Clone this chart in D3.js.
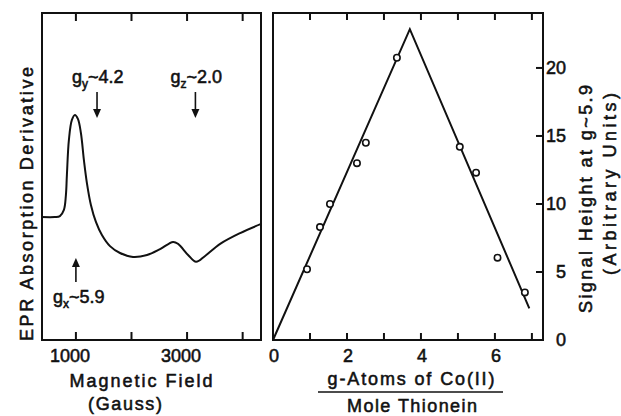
<!DOCTYPE html>
<html>
<head>
<meta charset="utf-8">
<script src="https://cdn.jsdelivr.net/npm/d3@7"></script>
<style>
  body { margin: 0; background: #fff; }
  text { font-family: "Liberation Sans", Arial, sans-serif; fill: #111; stroke: #111; stroke-width: 0.55px; }
</style>
</head>
<body>
<div id="chart"></div>
<script>
// left panel: EPR spectrum (field in Gauss, derivative in arbitrary units)
var field = [390, 622, 712, 784, 820, 838, 874, 928, 982, 1036, 1090, 1144, 1198, 1270, 1360, 1468, 1613, 1793, 2027, 2279, 2514, 2748, 2838, 3018, 3162, 3324, 3595, 3955, 4333]
var deriv = [37.6, 37.6, 37.9, 39.8, 44.3, 50.5, 61.2, 67.3, 68.8, 67.6, 63.3, 55.0, 48.0, 41.3, 36.1, 32.1, 28.7, 26.6, 25.4, 26.0, 27.8, 30.0, 29.4, 26.0, 23.9, 25.7, 29.4, 32.7, 35.5]
var fieldTicks = [1000, 2000, 3000, 4000]
var fieldLabels = [1000, 3000]

// g-value markers
var markerField = [1000, 1380, 3150]
var markerSub = ["x", "y", "z"]
var markerVal = ["5.9", "4.2", "2.0"]

// right panel: titration
var ratio = [0.92, 1.27, 1.54, 2.27, 2.51, 3.35, 5.05, 5.49, 6.07, 6.81]
var height = [5.2, 8.3, 10.0, 13.0, 14.5, 20.75, 14.2, 12.3, 6.05, 3.5]
var fitX = [0, 3.70, 6.93]
var fitY = [0, 22.85, 2.33]
var ratioTicks = [1, 2, 3, 4, 5, 6, 7]
var ratioLabels = [0, 2, 4, 6]
var heightTicks = [0, 5, 10, 15, 20]

var W = 621, H = 416
var svg = d3.select("#chart").append("svg")
    .attr("width", W)
    .attr("height", H)

var yTop = 13, yBot = 340
var tickLen = 7
var fs = 18

// axis title helper, stretched to the width seen in the figure
function title(g, x, y, rot, len, str) {
  return g.append("text")
      .attr("transform", "translate(" + x + "," + y + ")" + (rot ? " rotate(-90)" : ""))
      .attr("text-anchor", "middle")
      .attr("font-size", fs)
      .attr("textLength", len)
      .attr("lengthAdjust", "spacing")
      .text(str)
}

// ---- left panel
var x1 = d3.scaleLinear().domain([390, 4330]).range([42, 261])
var y1 = d3.scaleLinear().domain([0, 100]).range([yBot, yTop])

var gl = svg.append("g")

gl.append("rect")
    .attr("x", 42).attr("y", yTop)
    .attr("width", 261 - 42).attr("height", yBot - yTop)
    .attr("fill", "none").attr("stroke", "#111").attr("stroke-width", 2)

gl.selectAll("line.tt")
    .data(fieldTicks)
    .enter().append("line")
    .attr("x1", d => x1(d)).attr("x2", d => x1(d))
    .attr("y1", yTop).attr("y2", yTop + tickLen + 1)
    .attr("stroke", "#111").attr("stroke-width", 2)

gl.selectAll("line.bt")
    .data(fieldTicks)
    .enter().append("line")
    .attr("x1", d => x1(d)).attr("x2", d => x1(d))
    .attr("y1", yBot).attr("y2", yBot - tickLen - 1)
    .attr("stroke", "#111").attr("stroke-width", 2)

gl.selectAll("text.fl")
    .data(fieldLabels)
    .enter().append("text")
    .attr("x", d => x1(d) - 6)
    .attr("y", 362)
    .attr("text-anchor", "middle")
    .attr("font-size", fs)
    .text(d => d)

var spec = d3.line()
    .x((d, i) => x1(field[i]))
    .y(d => y1(d))
    .curve(d3.curveCatmullRom.alpha(0.5))

gl.append("path")
    .datum(deriv)
    .attr("d", spec)
    .attr("fill", "none").attr("stroke", "#111").attr("stroke-width", 2)

// markers: x points up from below, y and z point down from above
markerField.forEach(function (f, i) {
  var mx = x1(f)
  var up = markerSub[i] == "x"
  var ya = up ? 282 : 92, yb = up ? 260 : 116
  gl.append("line")
      .attr("x1", mx).attr("x2", mx)
      .attr("y1", ya).attr("y2", up ? yb + 4 : yb - 4)
      .attr("stroke", "#111").attr("stroke-width", 1.6)
  var ah = up ? [[mx, yb - 2], [mx - 4, yb + 7], [mx + 4, yb + 7]] : [[mx, yb + 2], [mx - 4, yb - 7], [mx + 4, yb - 7]]
  gl.append("path")
      .attr("d", d3.line()(ah) + "Z")
      .attr("fill", "#111")
  var t = gl.append("text")
      .attr("x", up ? mx - 23 : mx - 25)
      .attr("y", up ? 303 : 83)
      .attr("font-size", fs)
  t.append("tspan").text("g")
  t.append("tspan").attr("font-size", 12).attr("dy", 5).text(markerSub[i])
  t.append("tspan").attr("dy", -5).text("~" + markerVal[i])
})

title(gl, 33, 204, true, 274, "EPR Absorption Derivative")
title(gl, 141, 387, false, 143, "Magnetic Field")
title(gl, 125, 410, false, 74, "(Gauss)")

// ---- right panel
var x2 = d3.scaleLinear().domain([0, 7.3]).range([273, 543])
var y2 = d3.scaleLinear().domain([0, 24.04]).range([yBot, yTop])

var gr = svg.append("g")

gr.append("rect")
    .attr("x", 273).attr("y", yTop)
    .attr("width", 543 - 273).attr("height", yBot - yTop)
    .attr("fill", "none").attr("stroke", "#111").attr("stroke-width", 2)

gr.selectAll("line.tt")
    .data(ratioTicks)
    .enter().append("line")
    .attr("x1", d => x2(d)).attr("x2", d => x2(d))
    .attr("y1", yTop).attr("y2", yTop + tickLen)
    .attr("stroke", "#111").attr("stroke-width", 2)

gr.selectAll("line.bt")
    .data(ratioTicks)
    .enter().append("line")
    .attr("x1", d => x2(d)).attr("x2", d => x2(d))
    .attr("y1", yBot).attr("y2", yBot - tickLen)
    .attr("stroke", "#111").attr("stroke-width", 2)

gr.selectAll("line.yt")
    .data(heightTicks)
    .enter().append("line")
    .attr("x1", 543).attr("x2", 543 - tickLen)
    .attr("y1", d => y2(d)).attr("y2", d => y2(d))
    .attr("stroke", "#111").attr("stroke-width", 2)

gr.selectAll("text.xl")
    .data(ratioLabels)
    .enter().append("text")
    .attr("x", d => x2(d) + 1)
    .attr("y", 362)
    .attr("text-anchor", "middle")
    .attr("font-size", fs)
    .text(d => d)

gr.selectAll("text.yl")
    .data(heightTicks)
    .enter().append("text")
    .attr("x", 566)
    .attr("y", d => y2(d) + 6)
    .attr("text-anchor", "end")
    .attr("font-size", fs)
    .text(d => d)

gr.append("path")
    .datum(fitY)
    .attr("d", d3.line().x((d, i) => x2(fitX[i])).y(d => y2(d)))
    .attr("fill", "none").attr("stroke", "#111").attr("stroke-width", 2)

gr.selectAll("circle")
    .data(height)
    .enter().append("circle")
    .attr("cx", (d, i) => x2(ratio[i]))
    .attr("cy", d => y2(d))
    .attr("r", 3.2)
    .attr("fill", "#fff").attr("stroke", "#111").attr("stroke-width", 1.6)

title(gr, 592, 199, true, 228, "Signal Height at g~5.9")
title(gr, 616, 184, true, 182, "(Arbitrary Units)")
title(gr, 411, 385, false, 167, "g-Atoms of Co(II)")

gr.append("line")
    .attr("x1", 318).attr("x2", 503)
    .attr("y1", 392).attr("y2", 392)
    .attr("stroke", "#111").attr("stroke-width", 1.5)

title(gr, 412, 412, false, 130, "Mole Thionein")
</script>
</body>
</html>
